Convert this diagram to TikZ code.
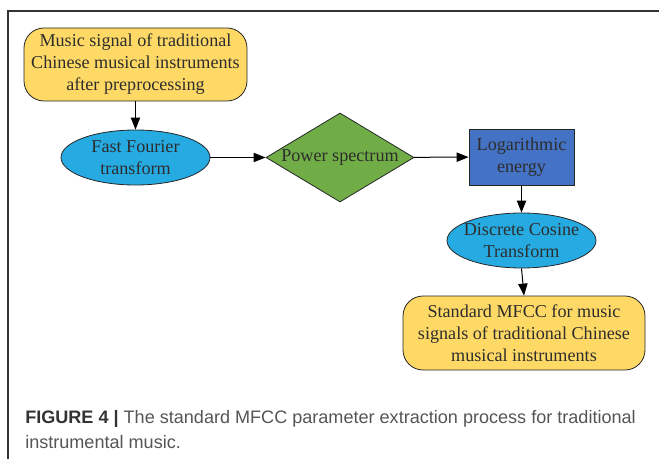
\documentclass[tikz,border=0pt]{standalone}
\usepackage{fontspec}
\setmainfont{Liberation Serif}
\setsansfont{Liberation Sans}
\usetikzlibrary{shapes.geometric,arrows.meta}
\definecolor{boxyellow}{RGB}{255,217,102}
\definecolor{ellblue}{RGB}{38,170,226}
\definecolor{dgreen}{RGB}{112,173,71}
\definecolor{rblue}{RGB}{68,114,196}
\definecolor{txtgray}{RGB}{45,45,45}
\definecolor{capgray}{RGB}{85,85,85}
\tikzset{
  base/.style={draw=black!85, line width=0.6pt, text=txtgray, align=center,
    font=\fontsize{13.6}{16.5}\selectfont, inner sep=0pt},
  roundbox/.style={base, rectangle, rounded corners=15pt, fill=boxyellow},
  ellnode/.style={base, ellipse, fill=ellblue, inner xsep=-5.5pt, minimum width=111.75pt, minimum height=41.25pt},
  dia/.style={base, diamond, aspect=1.66, fill=dgreen, minimum width=111pt, minimum height=66.75pt},
  rectnode/.style={base, rectangle, fill=rblue, minimum width=78.75pt, minimum height=42pt},
  arr/.style={line width=0.75pt, black, -{Triangle[length=9pt,width=7pt]}},
  frame/.style={line width=0.8pt, black!80},
  captext/.style={font=\sffamily\fontsize{13.55}{18.75}\selectfont, text=capgray, inner sep=0pt, anchor=base west}
}
\begin{document}
\begin{tikzpicture}[x=0.75pt,y=-0.75pt]
\useasboundingbox (0,0) rectangle (659,459);
\coordinate (ftl) at (8,11);
\coordinate (ftr) at (659,11);
\coordinate (fbl) at (8,459);
\draw[frame] (ftr) -- (ftl) -- (fbl);

\node[roundbox, minimum width=167.25pt, minimum height=54.75pt] (src) at (135.5,64.5)
  {Music signal of traditional\\Chinese musical instruments\\after preprocessing};
\node[ellnode] (fft) at (135.5,157.5) {Fast Fourier\\transform};
\node[dia] (pow) at (340,157.5) {Power spectrum};
\node[rectnode] (log) at (521.5,157) {Logarithmic\\energy};
\node[ellnode] (dct) at (521.5,240.5) {Discrete Cosine\\Transform};
\node[roundbox, minimum width=181.5pt, minimum height=55.5pt] (out) at (524,333)
  {Standard MFCC for music\\signals of traditional Chinese\\musical instruments};

\draw[arr] (src) -- (fft);
\draw[arr] (fft) -- (pow);
\draw[arr] (pow) -- (log);
\draw[arr] (log) -- (dct);
\draw[arr] (dct.south) -- (out.north);

\node[captext] (cap1) at (25,423) {\textbf{\color{black!80}FIGURE 4 |} The standard MFCC parameter extraction process for traditional};
\node[captext] (cap2) at (25,448) {instrumental music.};
\end{tikzpicture}
\end{document}
